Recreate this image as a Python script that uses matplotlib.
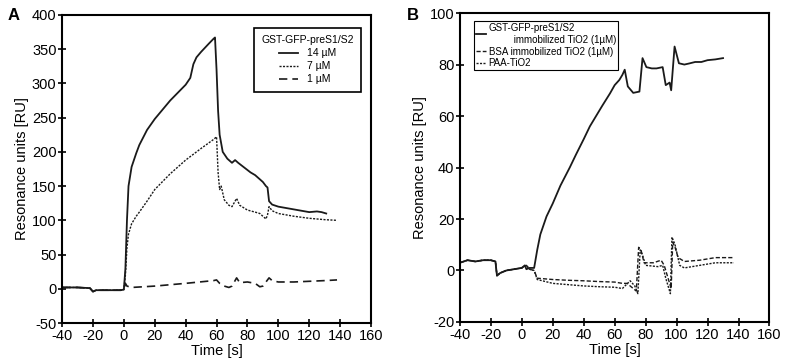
import numpy as np
import matplotlib.pyplot as plt

plt.rcParams['font.family'] = ['Liberation Sans', 'DejaVu Sans']
plt.rcParams['axes.unicode_minus'] = False

# panel A: GST-GFP-preS1/S2 concentrations
t14 = [-40, -30, -22, -20, -18, -10, -2, 0, 1, 2, 3, 5, 8, 10, 15, 20, 30, 40, 43, 45, 47, 50, 55, 58, 59,
       60, 61, 62, 64, 67, 70, 72, 74, 78, 82, 85, 88, 90, 92, 93, 94, 96, 100, 105, 110, 115, 120, 125, 128, 131]
v14 = [2, 2, 1, -4, -2, -2, -2, -1, 30, 100, 150, 178, 198, 210, 232, 248, 275, 298, 308, 328, 338, 346, 358, 365, 367,
       320, 260, 225, 200, 190, 184, 188, 184, 177, 170, 166, 160, 156, 150, 148, 128, 123, 120, 118, 116, 114, 112, 113, 112, 110]
t7 = [-40, -30, -22, -20, -18, -10, -2, 0, 1, 2, 3, 5, 8, 10, 15, 20, 30, 40, 50, 58, 60,
      61, 62, 63, 65, 68, 70, 72, 73, 75, 80, 85, 88, 90, 92, 93, 94, 96, 100, 110, 120, 130, 138]
v7 = [2, 2, 1, -4, -2, -2, -2, -1, 20, 60, 80, 95, 106, 112, 128, 145, 168, 188, 205, 218, 222,
      170, 145, 150, 130, 122, 120, 128, 132, 122, 115, 112, 110, 106, 102, 108, 120, 114, 110, 106, 103, 101, 100]
t1 = [-40, -30, -22, -20, -18, -10, -2, 0, 1, 2, 5, 20, 40, 58, 60, 62, 65, 68, 70, 72, 73, 75, 80, 85, 88, 90,
      92, 94, 96, 100, 110, 120, 130, 138]
v1 = [2, 2, 1, -4, -2, -2, -2, -1, 8, 4, 2, 4, 8, 12, 13, 8, 4, 2, 4, 12, 16, 9, 10, 8, 3, 4,
      10, 16, 12, 10, 10, 11, 12, 13]

# panel B: binding on TiO2 surfaces
tg = [-40, -35, -30, -25, -20, -17, -16, -14, -10, -5, 0, 2, 3, 5, 8, 10, 12, 16, 20, 25, 31, 35, 40, 44, 48, 52, 57,
      60, 63, 65, 66.5, 68.5, 72, 76, 78, 80.5, 84, 87, 91, 93, 95.5, 96.5, 98.7, 101.5, 105, 108, 112, 116, 120, 125, 130]
vg = [3, 4, 3.5, 4, 4, 3.5, -2, -1, 0, 0.5, 1, 2, 0.5, 1, 1, 8, 14, 21, 26, 33, 40, 45, 51, 56, 60, 64, 68.8,
      72, 74, 76, 78, 71.5, 69, 69.5, 82.5, 79, 78.5, 78.5, 79, 72, 73, 70, 87, 80.5, 80, 80.4, 81, 81, 81.7, 82, 82.5]
tb = [-40, -35, -30, -25, -20, -17, -16, -14, -10, -5, 0, 3, 5, 8, 10, 20, 30, 40, 50, 60, 65, 68, 72, 74,
      75.5, 77, 79, 85, 90, 92, 95, 96.5, 97.5, 99, 101, 105, 115, 125, 137]
vb = [3, 4, 3.5, 4, 4, 3.5, -2, -1, 0, 0.5, 1, 2, 0.5, 0, -3, -3.5, -3.8, -4, -4.3, -4.5, -5, -5, -7, -8,
      9, 8, 3, 3, 4, 2, -4, -7, 11, 9, 5, 3.5, 4, 5, 5]
tp = [-40, -35, -30, -25, -20, -17, -16, -14, -10, -5, 0, 3, 5, 8, 10, 20, 30, 40, 50, 60, 65, 70, 73, 75,
      76.5, 78, 80, 88, 91, 93, 96, 97, 99, 102, 105, 115, 125, 137]
vp = [3, 4, 3.5, 4, 4, 3.5, -2, -1, 0, 0.5, 1, 2, 0.5, 0, -3.5, -5, -5.5, -6, -6.3, -6.5, -7, -4, -6, -9,
      8, 6, 2, 1.5, 2, -3, -9, 13, 10, 2, 1, 2, 3, 3]

fig = plt.figure(figsize=(7.86, 3.63), dpi=100)
axA = fig.add_axes([0.079, 0.110, 0.393, 0.849])
axB = fig.add_axes([0.585, 0.113, 0.394, 0.851])

kol = '#1a1a1a'
axA.plot(t14, v14, color=kol, lw=1.3, label='14 µM')
axA.plot(t7, v7, color=kol, lw=1.0, ls=(0, (1.5, 1)), label='7 µM')
axA.plot(t1, v1, color=kol, lw=1.2, ls=(0, (5, 3)), label='1 µM')
axA.set_xlim(-40, 160)
axA.set_ylim(-50, 400)
axA.set_xticks(np.arange(-40, 161, 20))
axA.set_yticks(np.arange(-50, 401, 50))
axA.set_ylabel('Resonance units [RU]', fontsize=10.5, labelpad=2)
axA.set_xlabel('Time [s]', fontsize=10.5, labelpad=1)
legA = axA.legend(title='GST-GFP-preS1/S2', loc='upper right', fontsize=7.5, title_fontsize=7.5,
                  handlelength=1.8, fancybox=False, edgecolor='black', framealpha=1,
                  bbox_to_anchor=(0.985, 0.975), borderpad=0.7, labelspacing=0.3)
legA.get_frame().set_linewidth(1.2)

axB.plot(tg, vg, color=kol, lw=1.3, label='GST-GFP-preS1/S2\n         immobilized TiO2 (1µM)')
axB.plot(tb, vb, color=kol, lw=1.0, ls=(0, (3, 1.5)), label='BSA immobilized TiO2 (1µM)')
axB.plot(tp, vp, color=kol, lw=1.0, ls=(0, (1.5, 1)), label='PAA-TiO2')
axB.set_xlim(-40, 160)
axB.set_ylim(-20, 100)
axB.set_xticks(np.arange(-40, 161, 20))
axB.set_yticks(np.arange(-20, 101, 20))
axB.set_ylabel('Resonance units [RU]', fontsize=10.5, labelpad=2)
axB.set_xlabel('Time [s]', fontsize=10.5, labelpad=1)
legB = axB.legend(loc='upper left', fontsize=7, handlelength=1.0, handletextpad=0.3,
                  fancybox=False, edgecolor='black', framealpha=1,
                  bbox_to_anchor=(0.03, 0.99), borderpad=0.2, labelspacing=0.2)
legB.get_frame().set_linewidth(0.8)

for ax in (axA, axB):
    for s in ax.spines.values():
        s.set_linewidth(1.5)
    ax.tick_params(direction='inout', length=6, width=1.2, labelsize=10.5, pad=1)

fig.text(0.010, 0.945, 'A', fontsize=12, fontweight='bold')
fig.text(0.518, 0.945, 'B', fontsize=12, fontweight='bold')

fig.savefig('out.png', dpi=100)
